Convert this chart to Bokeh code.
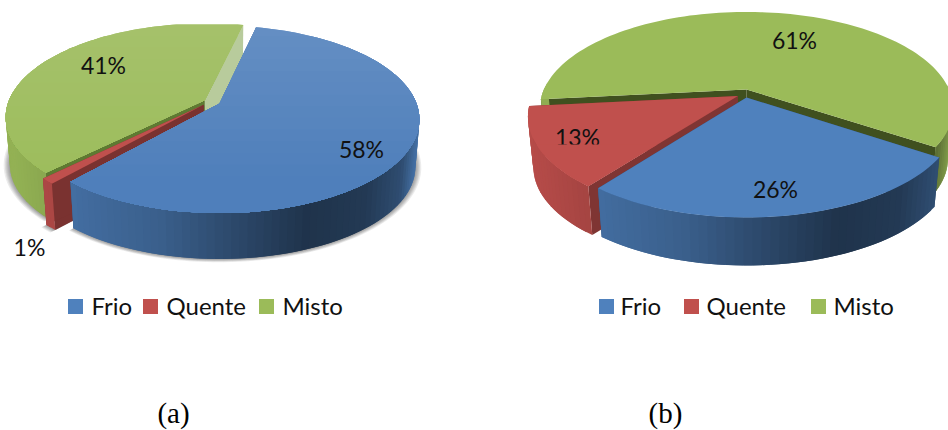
import math
from bokeh.embed import file_html
from bokeh.models import ColumnDataSource, Range1d
from bokeh.plotting import figure
from bokeh.resources import INLINE
from bokeh.core.properties import value

categories = ["Frio", "Quente", "Misto"]
shares_a = [58, 1, 41]
shares_b = [26, 13, 61]
captions = ["(a)", "(b)"]

BLUE, RED, GREEN = "#4f81bd", "#c0504d", "#9bbb59"
FONT = "Lato"

# Shade of a pie's rim as a function of horizontal position (-1 left, 1 right).
RIM_SHADE = [(-1.05, .95), (-.7, .84), (-.3, .74), (0, .60), (.45, .40),
             (.75, .45), (.93, .60), (1.0, .85), (1.05, .95)]

PIE_A = dict(cx=219, cy=103, a=197, b=91, k=.17, depth=48, base=.98, start=12.5, top=24,
             offsets={"Frio": (0, 0), "Quente": (-.08, -.015), "Misto": (-.075, .035)},
             top_grad={"Frio": ("#6690c4", "#4f7fbb"), "Quente": (RED, RED), "Misto": ("#a6c26c", "#9dbd5c")},
             face={"Frio": ("#2e4b73", "#2e4b73"), "Quente": ("#7a3230", "#7a3230"), "Misto": ("#5e7a32", "#b8cb9c")})
PIE_B = dict(cx=746, cy=97, a=206, b=96, k=.20, depth=51, base=.975, start=123.7, top=0,
             offsets={"Frio": (0, 0), "Quente": (-.042, .015), "Misto": (0, .085)},
             top_grad={"Frio": (BLUE, BLUE), "Quente": (RED, RED), "Misto": (GREEN, GREEN)},
             face={"Frio": ("#2e4b73", "#2e4b73"), "Quente": ("#7f3533", "#7f3533"), "Misto": ("#40501f", "#40501f")})
BASE_COLOR = {"Frio": BLUE, "Quente": RED, "Misto": GREEN}


def shaded(color, t):
    for (t0, s0), (t1, s1) in zip(RIM_SHADE, RIM_SHADE[1:]):
        if t0 <= t <= t1:
            s = s0 + (s1 - s0) * (t - t0) / (t1 - t0)
            break
    else:
        s = RIM_SHADE[-1][1]
    r, g, b = (int(color[i:i + 2], 16) for i in (1, 3, 5))
    return "#%02x%02x%02x" % (min(255, int(r * s)), min(255, int(g * s)), min(255, int(b * s)))


def project(pie, u, v, lower=False, grow=1.0):
    """Disk coordinates to screen pixels with a simple perspective."""
    w = 1 + pie["k"] * v
    scale = (pie["base"] if lower else 1.0) * grow
    x = pie["cx"] + scale * pie["a"] * u / w
    y = pie["cy"] - scale * pie["b"] * v / w + (pie["depth"] if lower else 0)
    return x, y


def clip_below(points, y0):
    """Keep the part of a polygon with y >= y0."""
    out = []
    for (x1, y1), (x2, y2) in zip(points, points[1:] + points[:1]):
        if y1 >= y0:
            out.append((x1, y1))
        if (y1 >= y0) != (y2 >= y0):
            f = (y0 - y1) / (y2 - y1)
            out.append((x1 + f * (x2 - x1), y0))
    return out


def arc_angles(a0, a1):
    n = max(2, int(abs(a1 - a0) / 2))
    return [math.radians(a0 + (a1 - a0) * i / n) for i in range(n + 1)]


xs, ys, fills, alphas = [], [], [], []


def add(points, color, alpha=1.0, top=0):
    if top:
        points = clip_below(points, top)
    if len(points) >= 3:
        xs.append([p[0] for p in points])
        ys.append([p[1] for p in points])
        fills.append(color)
        alphas.append(alpha)


def sector_spans(pie, shares):
    spans, angle = {}, pie["start"]
    for name, share in zip(categories, shares):
        spans[name] = (angle, angle + share * 3.6)
        angle += share * 3.6
    return spans


def draw_shadow(pie, spans):
    for grow in (1.004, 1.009, 1.014, 1.019, 1.024, 1.03):
        for name, (a0, a1) in spans.items():
            du, dv = pie["offsets"][name]
            pts = [project(pie, du, dv, True, grow)]
            pts += [project(pie, du + math.sin(t), dv + math.cos(t), True, grow) for t in arc_angles(a0, a1)]
            add(pts, "#303030", .09, pie["top"])


def draw_slice(pie, name, span):
    a0, a1 = span
    du, dv = pie["offsets"][name]
    top = pie["top"]
    angles = arc_angles(a0, a1)
    upper = [project(pie, du + math.sin(t), dv + math.cos(t)) for t in angles]
    lower = [project(pie, du + math.sin(t), dv + math.cos(t), True) for t in angles]
    apex_up = project(pie, du, dv)
    apex_lo = project(pie, du, dv, True)

    # Cut faces go first so the rim and the top surface lie over them.
    face_start, face_end = pie["face"][name]
    add([apex_up, upper[0], lower[0], apex_lo], face_start, 1.0, top)
    add([apex_up, upper[-1], lower[-1], apex_lo], face_end, 1.0, top)

    # Each rim piece reaches over the next one, which is painted on top of it.
    # The part of the rim that faces away from the viewer is left out.
    last = len(angles) - 1
    for i in range(last):
        if math.cos((angles[i] + angles[i + 1]) / 2) > .05:
            continue
        j = min(i + 2, last)
        t = ((upper[i][0] + upper[i + 1][0]) / 2 - pie["cx"]) / pie["a"]
        add([upper[i], upper[j], lower[j], lower[i]], shaded(BASE_COLOR[name], t), 1.0, top)

    surface = [apex_up] + upper
    back, front = pie["top_grad"][name]
    y_min = pie["cy"] - pie["b"]
    y_max = pie["cy"] + pie["b"] * 1.25
    add(surface, back, 1.0, top)
    if back != front:
        r0, g0, b0 = (int(back[i:i + 2], 16) for i in (1, 3, 5))
        r1, g1, b1 = (int(front[i:i + 2], 16) for i in (1, 3, 5))
        steps = 14
        for j in range(1, steps + 1):
            f = j / steps
            color = "#%02x%02x%02x" % (int(r0 + (r1 - r0) * f), int(g0 + (g1 - g0) * f), int(b0 + (b1 - b0) * f))
            add(clip_below(surface, y_min + (y_max - y_min) * f * .8), color, 1.0, top)
    return surface


spans_a = sector_spans(PIE_A, shares_a)
spans_b = sector_spans(PIE_B, shares_b)

draw_shadow(PIE_A, spans_a)
for name in ("Misto", "Quente", "Frio"):
    draw_slice(PIE_A, name, spans_a[name])

surfaces_b = {}
for name in ("Misto", "Quente", "Frio"):
    surfaces_b[name] = draw_slice(PIE_B, name, spans_b[name])

p = figure(width=948, height=430, output_backend="svg", toolbar_location=None,
           x_range=Range1d(0, 948), y_range=Range1d(430, 0), min_border=0)
p.axis.visible = False
p.grid.visible = False
p.outline_line_color = None
p.background_fill_color = "#ffffff"
p.border_fill_color = "#ffffff"

p.patches("xs", "ys", source=ColumnDataSource(dict(xs=xs, ys=ys, fill=fills, alpha=alphas)),
          fill_color="fill", fill_alpha="alpha", line_color=None)

# Value labels sit on the pies.
label_pos_a = [(361, 148), (29, 246), (103, 64)]
label_pos_b = [(775, 188), (577, 136), (794, 39)]
lx = [q[0] for q in label_pos_a + label_pos_b]
ly = [q[1] for q in label_pos_a + label_pos_b]
ltext = [f"{v}%" for v in shares_a + shares_b]
p.text(lx, ly, text=ltext, text_font=value(FONT), text_font_size="23px", text_color="#111111",
       text_align="center", text_baseline="middle")

# The lower part of the Quente surface in (b) lies over its label.
hide = clip_below(surfaces_b["Quente"], 144)
p.patch([q[0] for q in hide], [q[1] for q in hide], fill_color=RED, line_color=None)

# Legends
swatch_x_a = [75, 150, 266]
text_x_a = [91, 166, 282]
swatch_x_b = [606, 691, 818]
text_x_b = [620, 706, 833]
swatch_colors = [BLUE, RED, GREEN]
p.rect(swatch_x_a + swatch_x_b, [306] * 6, width=15, height=15, fill_color=swatch_colors * 2, line_color=None)
p.text(text_x_a + text_x_b, [305] * 6, text=categories * 2, text_font=value(FONT), text_font_size="24px",
       text_color="#111111", text_align="left", text_baseline="middle")

# Panel captions
p.text([173, 665], [412, 412], text=captions, text_font=value("Liberation Serif"), text_font_size="29px",
       text_color="#000000", text_align="center", text_baseline="middle")

open("out.html", "w").write(file_html(p, INLINE))
